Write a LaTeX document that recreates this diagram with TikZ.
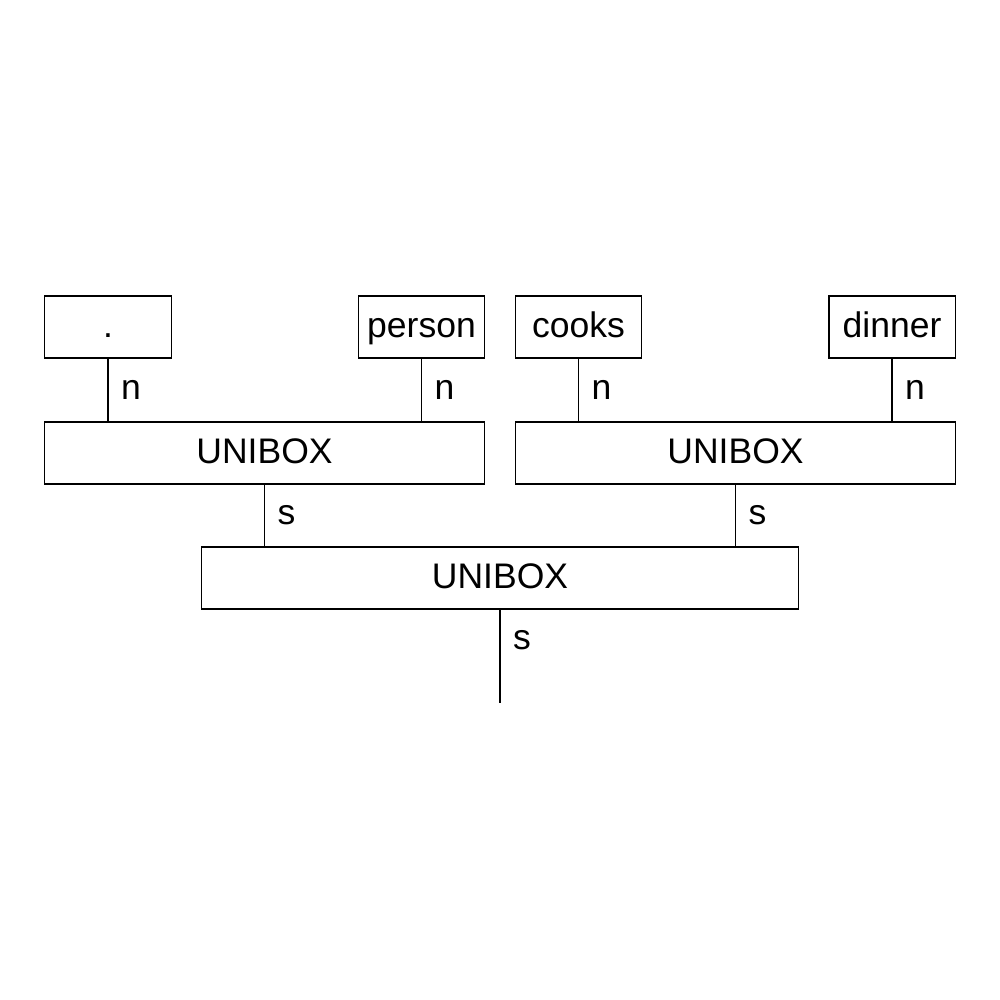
\documentclass[tikz,border=0pt]{standalone}
\usepackage{fontspec}
\setmainfont{Liberation Sans}
\begin{document}
\begin{tikzpicture}[x=0.01cm,y=-0.01cm,
  every node/.style={font=\fontsize{10.1pt}{12pt}\selectfont},
  box/.style={draw, line width=0.3pt, minimum height=0.62cm, inner sep=0pt,
              text height=7.2pt, text depth=1.5pt},
  link/.style={line width=0.3pt},
  lab/.style={right, inner sep=3.6pt}]
  \useasboundingbox (0,0) rectangle (1000,1000);
  % word boxes
  \node[box, minimum width=1.26cm] (dot)    at (108,327)   {.};
  \node[box, minimum width=1.25cm] (person) at (421.5,327) {person};
  \node[box, minimum width=1.25cm] (cooks)  at (578.5,327) {cooks};
  \node[box, minimum width=1.26cm] (dinner) at (892,327)   {dinner};
  % combining boxes
  \node[box, minimum width=4.39cm] (uniL) at (264.5,453) {UNIBOX};
  \node[box, minimum width=4.39cm] (uniR) at (735.5,453) {UNIBOX};
  \node[box, minimum width=5.96cm] (uniB) at (500,578)   {UNIBOX};
  \coordinate (out) at (500,703);
  % typed connectors
  \draw[link] (dot.south)    -- node[lab] {n} (dot.south |- uniL.north);
  \draw[link] (person.south) -- node[lab] {n} (person.south |- uniL.north);
  \draw[link] (cooks.south)  -- node[lab] {n} (cooks.south |- uniR.north);
  \draw[link] (dinner.south) -- node[lab] {n} (dinner.south |- uniR.north);
  \draw[link] (uniL.south) -- node[lab] {s} (uniL.south |- uniB.north);
  \draw[link] (uniR.south) -- node[lab] {s} (uniR.south |- uniB.north);
  \draw[link] (uniB.south) -- node[lab, pos=0.33] {s} (out);
\end{tikzpicture}
\end{document}
